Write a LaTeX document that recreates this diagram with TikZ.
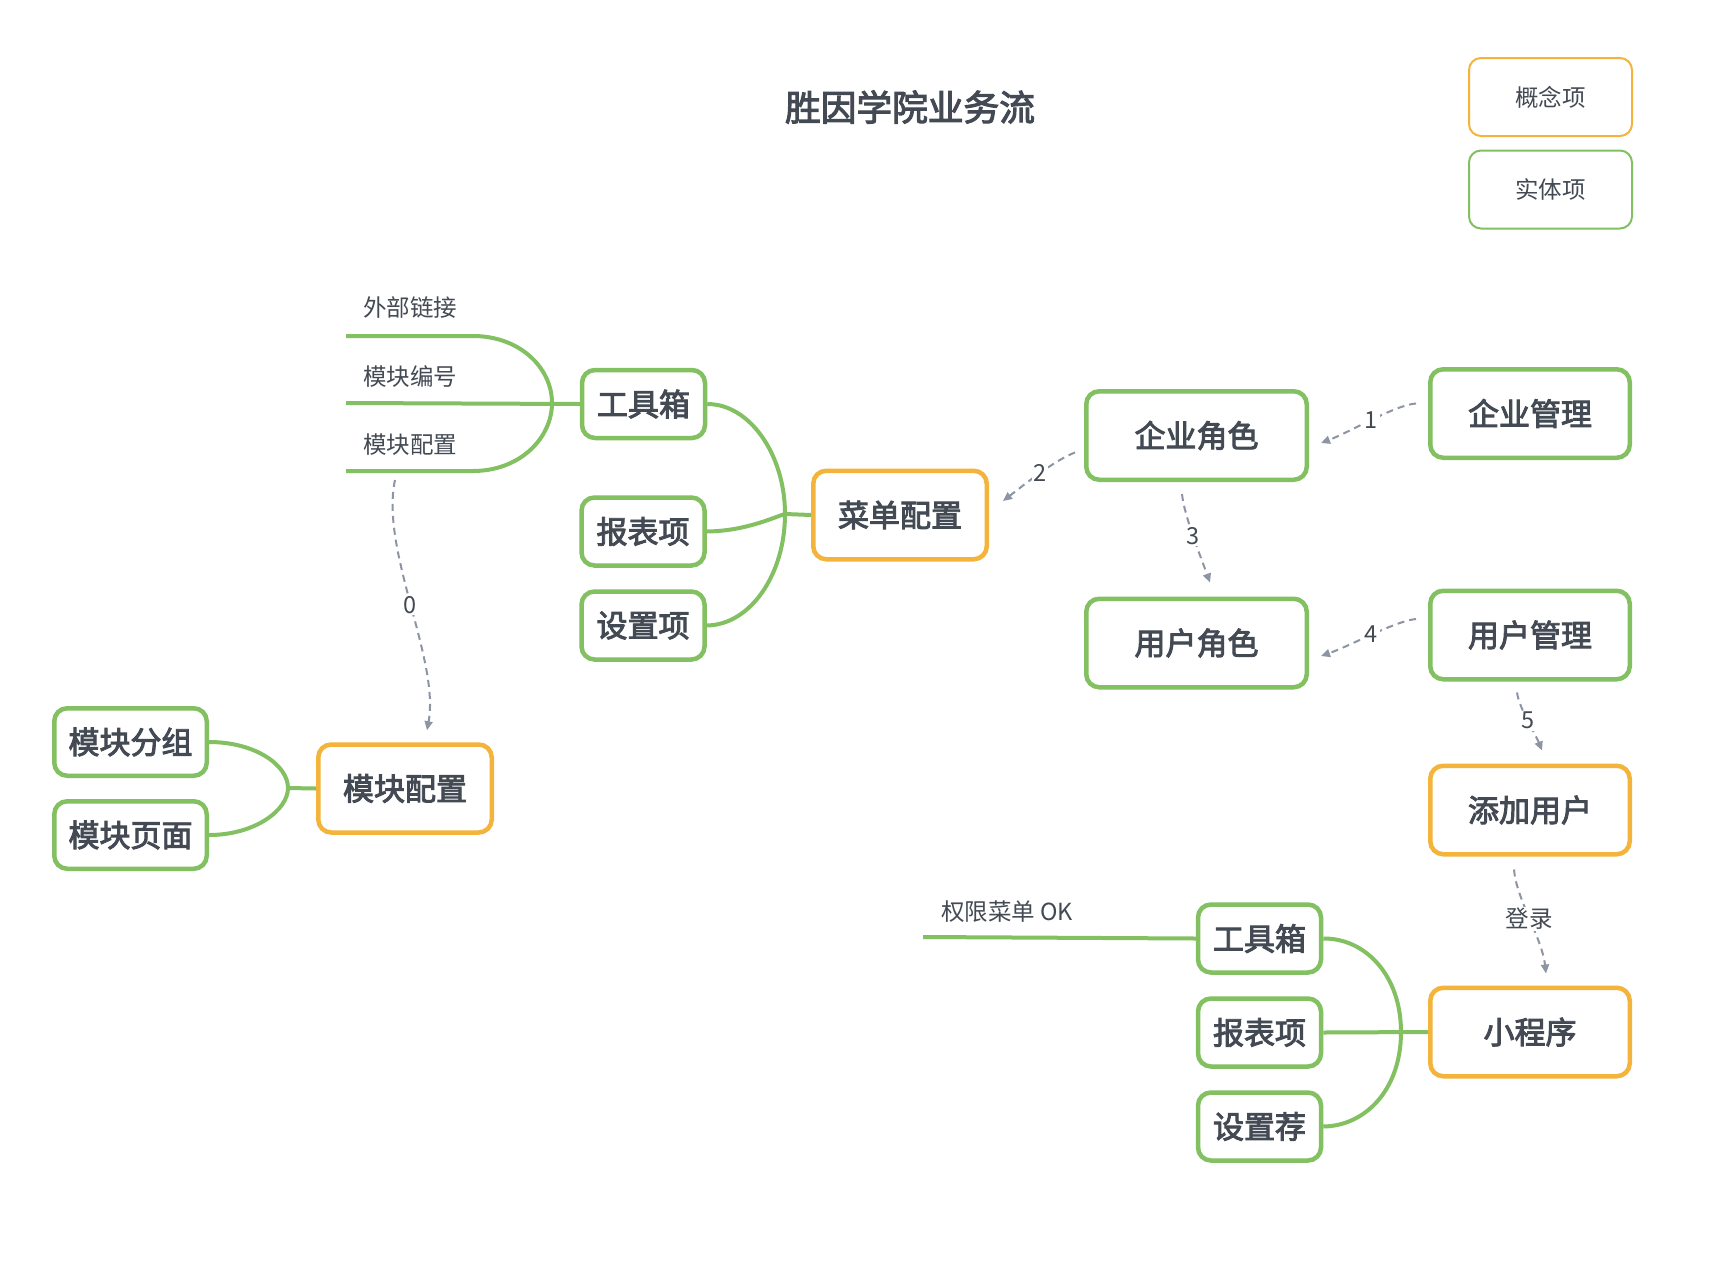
\documentclass[tikz,border=0pt]{standalone}
\usepackage{fontspec}
\setmainfont{Noto Sans CJK SC}
\newfontfamily\medfont{Noto Sans CJK SC}[FakeBold=3]
\usetikzlibrary{arrows.meta}
\definecolor{txt}{HTML}{434A54}
\definecolor{grn}{HTML}{82C061}
\definecolor{org}{HTML}{F4B43C}
\definecolor{gry}{HTML}{8D94A3}
\tikzset{
 base/.style={draw, rounded corners=13pt, fill=white, inner sep=0pt, text=txt, font=\fontsize{31}{36}\selectfont\medfont, line width=4.5pt},
 ent/.style={base, draw=grn},
 con/.style={base, draw=org},
 smallbox/.style={minimum width=123pt, minimum height=68pt},
 bigbox/.style={minimum width=199.5pt, minimum height=88.5pt},
 legbox/.style={draw, rounded corners=12pt, line width=2pt, inner sep=0pt, fill=white, text=txt, font=\fontsize{23.5}{28}\selectfont, minimum width=163pt, minimum height=78pt},
 br/.style={draw=grn, line width=4pt},
 rel/.style={draw=gry, line width=2pt, dash pattern=on 7pt off 5pt, -{Triangle[length=9pt,width=8pt]}},
 rlab/.style={fill=white, inner sep=1.5pt, text=txt, font=\fontsize{23.5}{28}\selectfont},
 leaf/.style={text=txt, font=\fontsize{23.5}{28}\selectfont, inner sep=0pt},
}
\begin{document}
\begin{tikzpicture}[x=1pt,y=-1pt]
\useasboundingbox[fill=white] (0,0) rectangle (1710,1266);

% title and legend
\node[text=txt, font=\fontsize{35.7}{40}\selectfont\medfont] (title) at (910,107) {胜因学院业务流};
\node[legbox, draw=org] (leg1) at (1550.5,97) {概念项};
\node[legbox, draw=grn] (leg2) at (1550.5,189.5) {实体项};

% coordinates
\coordinate (l1s) at (346,336);
\coordinate (l1e) at (473,336);
\coordinate (l2s) at (346,403);
\coordinate (l3s) at (346,471);
\coordinate (l3e) at (473,471);
\coordinate (j1) at (552,403);
\coordinate (j2) at (785,514);
\coordinate (j3) at (288,788);
\coordinate (j4) at (1401,1032);
\coordinate (qx) at (923,937);

% nodes
\node[ent, smallbox] (tb1) at (643.5,404) {工具箱};
\node[ent, smallbox] (bb1) at (643,531.5) {报表项};
\node[ent, smallbox] (sz1) at (643,625.5) {设置项};
\node[con, minimum width=173.5pt, minimum height=88.5pt] (cd) at (900,515) {菜单配置};
\node[ent, minimum width=220.5pt, minimum height=88.5pt] (qyjs) at (1196.5,435.5) {企业角色};
\node[ent, minimum width=220.5pt, minimum height=88.5pt] (yhjs) at (1196.5,643) {用户角色};
\node[ent, bigbox] (qygl) at (1530,413.5) {企业管理};
\node[ent, bigbox] (yhgl) at (1530,635) {用户管理};
\node[con, bigbox] (tjyh) at (1530,810) {添加用户};
\node[con, bigbox] (xcx) at (1530,1032) {小程序};
\node[ent, smallbox] (tb2) at (1259.5,938.5) {工具箱};
\node[ent, smallbox] (bb2) at (1259.5,1032.5) {报表项};
\node[ent, smallbox] (sz2) at (1259.5,1126.5) {设置荐};
\node[con, minimum width=173.5pt, minimum height=88pt] (mkpz) at (405,788.5) {模块配置};
\node[ent, minimum width=152.5pt, minimum height=67.5pt] (mkfz) at (130.5,742) {模块分组};
\node[ent, minimum width=152.5pt, minimum height=67.5pt] (mkym) at (130.5,835) {模块页面};

% leaf labels
\node[leaf] (t1) at (410,308) {外部链接};
\node[leaf] (t2) at (410,377) {模块编号};
\node[leaf] (t3) at (410,445) {模块配置};
\node[leaf] (t4) at (1007,912) {权限菜单 OK};

% green branches
\draw[br] (l1s) -- (l1e) .. controls (520,336) and (552,368) .. (j1);
\draw[br] (l2s) -- (tb1.west);
\draw[br] (l3s) -- (l3e) .. controls (520,471) and (552,438) .. (j1);

\draw[br] (tb1.east) .. controls (750,404) and (785,455) .. (j2);
\draw[br] (bb1.east) .. controls (745,531) and (772,518) .. (j2);
\draw[br] (sz1.east) .. controls (750,625) and (785,575) .. (j2);
\draw[br] (j2) -- (cd.west);

\draw[br] (mkfz.east) .. controls (255,742) and (288,765) .. (j3);
\draw[br] (mkym.east) .. controls (255,835) and (288,810) .. (j3);
\draw[br] (j3) -- (mkpz.west);

\draw[br] (tb2.east) .. controls (1365,938) and (1401,975) .. (j4);
\draw[br] (bb2.east) -- (xcx.west);
\draw[br] (sz2.east) .. controls (1365,1126) and (1401,1090) .. (j4);

\draw[br] (qx) -- (tb2.west);

% dashed relations
\draw[rel] ([shift={(-15,35)}]t3.center) .. controls (380,550) and (440,660) .. ([shift={(22,-12)}]mkpz.north) node[rlab, pos=0.5] {0};
\draw[rel] ([shift={(-12,-10)}]qygl.west) .. controls (1395,405) and (1350,432) .. ([shift={(12,7.5)}]qyjs.east) node[rlab, pos=0.5] {1};
\draw[rel] ([shift={(-9,17)}]qyjs.west) .. controls (1055,460) and (1025,484) .. ([shift={(14,-14)}]cd.east) node[rlab, pos=0.5] {2};
\draw[rel] ([shift={(-14.5,12)}]qyjs.south) .. controls (1184,515) and (1200,555) .. ([shift={(13.5,-14)}]yhjs.north) node[rlab, pos=0.5] {3};
\draw[rel] ([shift={(-12,-16)}]yhgl.west) .. controls (1395,621) and (1350,646) .. ([shift={(12,13)}]yhjs.east) node[rlab, pos=0.5] {4};
\draw[rel] ([shift={(-13,11)}]yhgl.south) .. controls (1519,708) and (1535,733) .. ([shift={(12,-13)}]tjyh.north) node[rlab, pos=0.5] {5};
\draw[rel] ([shift={(-16,13)}]tjyh.south) .. controls (1516,898) and (1542,938) .. ([shift={(16,-12)}]xcx.north) node[rlab, pos=0.5] {登录};
\end{tikzpicture}
\end{document}
